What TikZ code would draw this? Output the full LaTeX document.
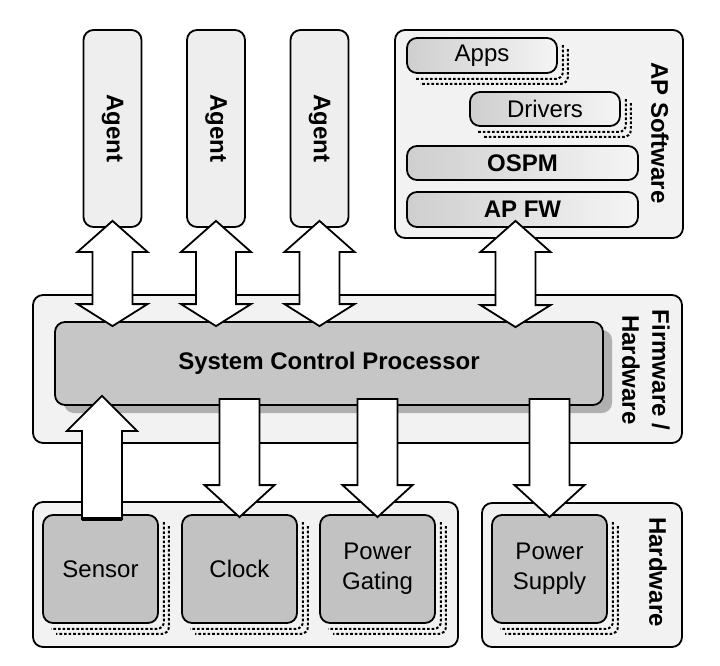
\documentclass[tikz,border=0pt]{standalone}
\usepackage{fontspec}
\usepackage{graphicx}
\setmainfont{Liberation Sans}
\usetikzlibrary{calc}
\newcommand\fs{\fontsize{24}{30}\selectfont}
\newcommand\dblarr[2]{\draw[blk] let \p1=(#1), \p2=(#2) in
  (\x1,\y1) -- (\x1+35pt,\y1-31pt) -- (\x1+20pt,\y1-31pt) -- (\x1+20pt,\y2+22pt)
  -- (\x1+35pt,\y2+22pt) -- (\x1,\y2) -- (\x1-35pt,\y2+22pt) -- (\x1-20pt,\y2+22pt)
  -- (\x1-20pt,\y1-31pt) -- (\x1-35pt,\y1-31pt) -- cycle;}
\newcommand\uparr[2]{\draw[blk] let \p1=(#1), \p2=(#2) in
  (\x1,\y1) -- (\x1+35pt,\y1-35pt) -- (\x1+20pt,\y1-35pt) -- (\x1+20pt,\y2)
  -- (\x1-20pt,\y2) -- (\x1-20pt,\y1-35pt) -- (\x1-35pt,\y1-35pt) -- cycle;
  \draw[line width=3.5pt] let \p1=(#1), \p2=(#2) in (\x1-20pt,\y2) -- (\x1+20pt,\y2);}
\newcommand\downarr[2]{\draw[blk] let \p1=(#1), \p2=(#2) in
  (\x1-20pt,\y1) -- (\x1+20pt,\y1) -- (\x1+20pt,\y2+32pt) -- (\x1+35pt,\y2+32pt)
  -- (\x1,\y2) -- (\x1-35pt,\y2+32pt) -- (\x1-20pt,\y2+32pt) -- cycle;}
\newcommand\dshadow[1]{%
  \draw[dots] ([xshift=5pt,yshift=-8pt]#1.north east) |- ([xshift=9pt,yshift=-5pt]#1.south west);
  \draw[dots] ([xshift=10pt,yshift=-12pt]#1.north east) |- ([xshift=14pt,yshift=-10pt]#1.south west);}
\begin{document}
\begin{tikzpicture}[x=1pt,y=-1pt,
  box/.style={draw=black, line width=1.8pt, rounded corners=10pt, inner sep=0pt},
  outer/.style={box, fill=gray!10},
  agent/.style={box, fill=gray!13, minimum width=58pt, minimum height=197pt, font=\fs\bfseries},
  swbox/.style={box, left color=gray!38, right color=gray!8, minimum height=35pt, font=\fs},
  hwbox/.style={box, fill=gray!48, minimum width=115pt, minimum height=108pt, align=center, font=\fs},
  blk/.style={draw=black, line width=1.8pt, fill=white, line join=miter},
  dots/.style={draw=black, line width=2pt, dash pattern=on 2.6pt off 2pt, rounded corners=7pt},
  lbl/.style={font=\fs\bfseries, rotate=-90, align=center}
]
\useasboundingbox (0,0) rectangle (720,666);
\fill[white] (0,0) rectangle (720,666);
% containers
\node[outer, minimum width=288pt, minimum height=208pt] (apsw) at (539,134) {};
\node[outer, minimum width=649pt, minimum height=148pt] (fwhw) at (357.5,369) {};
\node[outer, minimum width=425pt, minimum height=145pt] (hwa) at (245.5,574.5) {};
\node[outer, minimum width=200pt, minimum height=144pt] (hwb) at (582,575) {};
% SCP
\fill[gray!62, rounded corners=10pt] (64,330) rectangle (612,413);
\node[box, fill=gray!45, minimum width=548pt, minimum height=83pt, font=\fs\bfseries] (scp) at (329,363.5) {System Control Processor};
% agents
\node[agent] (ag1) at (112.5,128.5) {\rotatebox{-90}{Agent}};
\node[agent] (ag2) at (216,128.5) {\rotatebox{-90}{Agent}};
\node[agent] (ag3) at (319.5,128.5) {\rotatebox{-90}{Agent}};
% AP software stack
\node[swbox, minimum width=150pt] (apps) at (482,55.5) {Apps};
\node[swbox, minimum width=150pt, minimum height=34pt] (drv) at (545,109) {Drivers};
\node[swbox, minimum width=231pt, minimum height=34pt, font=\fs\bfseries] (ospm) at (522.5,163) {OSPM};
\node[swbox, minimum width=231pt, font=\fs\bfseries] (apfw) at (522.5,209.5) {AP FW};
\dshadow{apps}
\dshadow{drv}
% hardware blocks
\node[hwbox] (sens) at (100.5,569) {Sensor};
\node[hwbox] (clk) at (239.5,569) {Clock};
\node[hwbox] (pg) at (377.5,569) {Power\\Gating};
\node[hwbox] (ps) at (549.5,569) {Power\\Supply};
\dshadow{sens}
\dshadow{clk}
\dshadow{pg}
\dshadow{ps}
% arrows
\coordinate (t1) at ([yshift=7pt]ag1.south);
\coordinate (t2) at ([yshift=7pt]ag2.south);
\coordinate (t3) at ([yshift=7pt]ag3.south);
\coordinate (t4) at ([xshift=-7pt,yshift=7pt]apfw.south);
\dblarr{t1}{$(t1 |- scp.north)+(0,5)$}
\dblarr{t2}{$(t2 |- scp.north)+(0,5)$}
\dblarr{t3}{$(t3 |- scp.north)+(0,5)$}
\dblarr{t4}{$(t4 |- scp.north)+(0,6)$}
\coordinate (s1) at ([xshift=1.5pt]sens.north);
\uparr{$(s1 |- scp.south)+(0,-10)$}{$(s1)+(0,5)$}
\downarr{$(clk.north |- scp.south)+(0,-7)$}{$(clk.north)+(0,3)$}
\downarr{$(pg.north |- scp.south)+(0,-7)$}{$(pg.north)+(0,3)$}
\downarr{$(ps.north |- scp.south)+(0,-7)$}{$(ps.north)+(0,3)$}
% side labels
\node[lbl] (lap) at (660,133) {AP Software};
\node[lbl] (lfw) at (646,370) {Firmware /\\Hardware};
\node[lbl] (lhw) at (658,572) {Hardware};
\end{tikzpicture}
\end{document}
